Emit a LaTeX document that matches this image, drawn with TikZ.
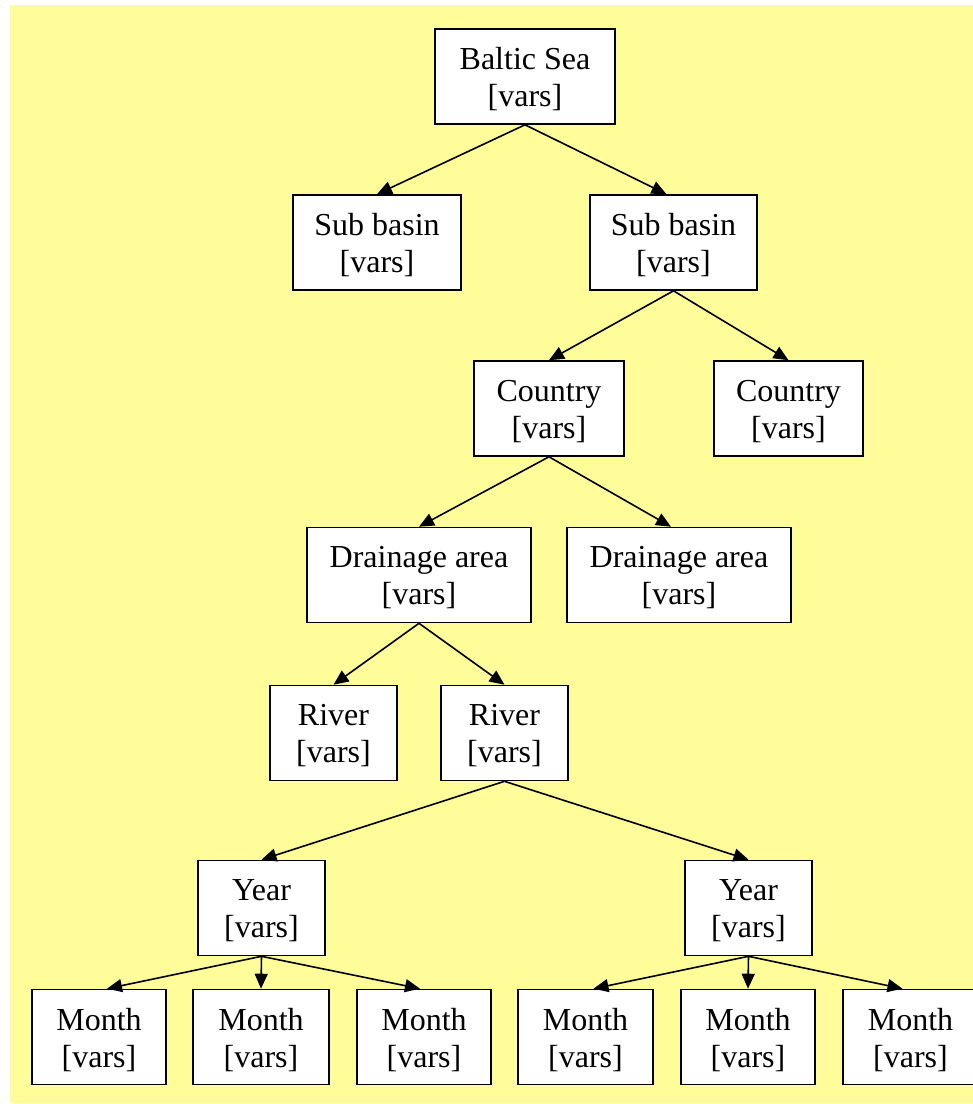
\documentclass[tikz,border=0pt]{standalone}
\usepackage{fontspec}
\setmainfont{Liberation Serif}
\usetikzlibrary{arrows.meta}
\definecolor{paleyellow}{HTML}{FFFD99}
\begin{document}
\begin{tikzpicture}[x=1pt,y=-1pt,
  boxtext/.style={align=center, inner sep=0pt, yshift=-3pt,
    font=\fontsize{32}{37}\selectfont},
  box/.style={draw=black, fill=white, line width=1.6pt,
    inner sep=0pt, minimum height=95pt,
    label={[boxtext]center:#1}},
  link/.style={line width=1.6pt, -{Triangle[length=15pt,width=13pt]}}]
\useasboundingbox (0,0) rectangle (973,1104);
\fill[paleyellow] (10,5) rectangle (980,1103);

% level 0
\node[box={Baltic Sea\\\relax [vars]}, minimum width=180pt] (sea) at (525,76.5) {};
% sub basins
\node[box={Sub basin\\\relax [vars]}, minimum width=168pt] (sb1) at (377,242.5) {};
\node[box={Sub basin\\\relax [vars]}, minimum width=167pt] (sb2) at (673.5,242.5) {};
% countries
\node[box={Country\\\relax [vars]}, minimum width=150pt] (c1) at (549,408.5) {};
\node[box={Country\\\relax [vars]}, minimum width=149pt] (c2) at (788.5,408.5) {};
% drainage areas
\node[box={Drainage area\\\relax [vars]}, minimum width=224pt] (d1) at (419,575) {};
\node[box={Drainage area\\\relax [vars]}, minimum width=224pt] (d2) at (679,575) {};
% rivers
\node[box={River\\\relax [vars]}, minimum width=127pt] (r1) at (333.5,733) {};
\node[box={River\\\relax [vars]}, minimum width=127pt] (r2) at (504.5,733) {};
% years
\node[box={Year\\\relax [vars]}, minimum width=127pt] (y1) at (261.5,908) {};
\node[box={Year\\\relax [vars]}, minimum width=127pt] (y2) at (748.5,908) {};
% months
\node[box={Month\\\relax [vars]}, minimum width=134pt] (m1) at (99,1037) {};
\node[box={Month\\\relax [vars]}, minimum width=136pt] (m2) at (261,1037) {};
\node[box={Month\\\relax [vars]}, minimum width=134pt] (m3) at (424,1037) {};
\node[box={Month\\\relax [vars]}, minimum width=135pt] (m4) at (585.5,1037) {};
\node[box={Month\\\relax [vars]}, minimum width=134pt] (m5) at (748,1037) {};
\node[box={Month\\\relax [vars]}, minimum width=135pt] (m6) at (910.5,1037) {};

% connectors
\draw[link] (sea.south) -- (sb1.north);
\draw[link] (sea.south) -- ([xshift=-7pt]sb2.north);
\draw[link] (sb2.south) -- (c1.north);
\draw[link] (sb2.south) -- (c2.north);
\draw[link] (c1.south) -- (d1.north);
\draw[link] (c1.south) -- ([xshift=-8pt]d2.north);
\draw[link] (d1.south) -- (r1.north);
\draw[link] (d1.south) -- (r2.north);
\draw[link] (r2.south) -- (y1.north);
\draw[link] (r2.south) -- (y2.north);
\draw[link] (y1.south) -- ([xshift=8pt]m1.north);
\draw[link] (y1.south) -- (m2.north);
\draw[link] (y1.south) -- ([xshift=-4pt]m3.north);
\draw[link] (y2.south) -- ([xshift=8pt]m4.north);
\draw[link] (y2.south) -- (m5.north);
\draw[link] (y2.south) -- ([xshift=-8pt]m6.north);
\end{tikzpicture}
\end{document}
